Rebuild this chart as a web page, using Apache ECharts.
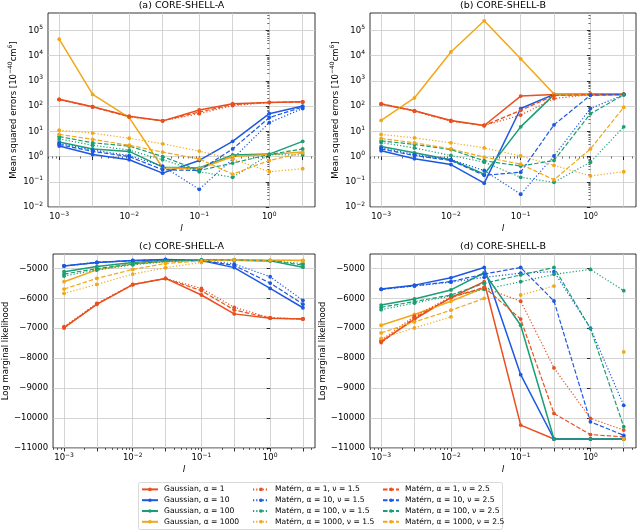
<!DOCTYPE html>
<html><head><meta charset="utf-8">
<script src="https://cdn.jsdelivr.net/npm/echarts@6/dist/echarts.min.js"></script>
<style>html,body{margin:0;padding:0;background:#fff}#c{width:640px;height:532px}</style>
</head><body><div id="c"></div>
<script>
// ---------------- data ----------------
const lengthScales = [0.001, 0.003, 0.01, 0.03, 0.1, 0.3, 1, 3];
const xLabelExps = [-3, -2, -1, 0];
const mseLabelExps = [-2, -1, 0, 1, 2, 3, 4, 5];
const lmlTicks = [-11000, -10000, -9000, -8000, -7000, -6000, -5000];
const panelTitles = ['(a) CORE-SHELL-A', '(b) CORE-SHELL-B', '(c) CORE-SHELL-A', '(d) CORE-SHELL-B'];
const seriesNames = [
  'Gaussian, α = 1', 'Gaussian, α = 10', 'Gaussian, α = 100', 'Gaussian, α = 1000',
  'Matérn, α = 1, ν = 1.5', 'Matérn, α = 10, ν = 1.5', 'Matérn, α = 100, ν = 1.5', 'Matérn, α = 1000, ν = 1.5',
  'Matérn, α = 1, ν = 2.5', 'Matérn, α = 10, ν = 2.5', 'Matérn, α = 100, ν = 2.5', 'Matérn, α = 1000, ν = 2.5'
];

// (a) Mean squared errors, CORE-SHELL-A
const mseA_G1      = [185, 95, 40, 26, 70, 125, 140, 148];
const mseA_G10     = [2.6, 1.2, 0.75, 0.22, 0.7, 4.0, 50, 100];
const mseA_G100    = [3.8, 2.0, 1.6, 0.38, 0.35, 1.15, 1.25, 4.0];
const mseA_G1000   = [45000, 290, 35, 0.36, 0.33, 1.0, 1.2, 1.5];
const mseA_M1_15   = [185, 95, 38, 26, 50, 105, 138, 145];
const mseA_M10_15  = [3.3, 1.8, 1.1, 0.42, 0.05, 0.8, 22, 80];
const mseA_M100_15 = [5.0, 2.8, 1.8, 0.75, 0.25, 0.15, 1.2, 1.15];
const mseA_M1000_15= [11, 8.5, 5.3, 3.2, 1.65, 0.8, 0.25, 0.33];
const mseA_M1_25   = [180, 92, 38, 26, 58, 115, 140, 146];
const mseA_M10_25  = [3.0, 1.6, 1.0, 0.3, 0.28, 2.0, 35, 92];
const mseA_M100_25 = [6.2, 3.5, 2.6, 1.0, 0.28, 0.55, 1.2, 2.0];
const mseA_M1000_25= [7.6, 4.8, 2.8, 1.5, 0.8, 0.2, 0.7, 1.4];

// (b) Mean squared errors, CORE-SHELL-B
const mseB_G1      = [120, 65, 27, 17, 250, 290, 295, 295];
const mseB_G10     = [1.7, 0.82, 0.48, 0.088, 80, 290, 290, 290];
const mseB_G100    = [2.5, 1.4, 0.75, 0.2, 15, 285, 290, 290];
const mseB_G1000   = [27, 210, 14000, 240000, 7500, 300, 295, 295];
const mseB_M1_15   = [118, 63, 25, 17, 44, 200, 285, 290];
const mseB_M10_15  = [2.2, 1.2, 0.75, 0.28, 0.032, 1.05, 80, 285];
const mseB_M100_15 = [3.6, 2.2, 1.1, 0.6, 0.15, 0.095, 0.6, 15];
const mseB_M1000_15= [7.5, 5.5, 3.5, 2.2, 1.05, 0.45, 0.17, 0.25];
const mseB_M1_25   = [125, 65, 26, 17, 68, 260, 290, 290];
const mseB_M10_25  = [2.0, 1.1, 0.7, 0.18, 0.24, 18, 270, 290];
const mseB_M100_25 = [4.2, 3.0, 1.9, 0.68, 0.42, 0.7, 50, 280];
const mseB_M1000_25= [5.2, 3.5, 2.0, 0.95, 0.5, 0.12, 2.0, 90];

// (c) Log marginal likelihood, CORE-SHELL-A
const lmlA_G1      = [-6980, -6200, -5540, -5335, -5890, -6520, -6670, -6690];
const lmlA_G10     = [-4920, -4800, -4735, -4700, -4735, -4975, -5670, -6315];
const lmlA_G100    = [-5110, -4940, -4800, -4740, -4720, -4730, -4750, -4960];
const lmlA_G1000   = [-5445, -5050, -4850, -4760, -4730, -4720, -4730, -4730];
const lmlA_M1_15   = [-6950, -6170, -5535, -5335, -5670, -6300, -6650, -6690];
const lmlA_M10_15  = [-4915, -4805, -4745, -4715, -4740, -4850, -5280, -6070];
const lmlA_M100_15 = [-5255, -5055, -4880, -4780, -4730, -4720, -4740, -4840];
const lmlA_M1000_15= [-5835, -5535, -5190, -4980, -4800, -4730, -4740, -4750];
const lmlA_M1_25   = [-6990, -6190, -5545, -5340, -5745, -6390, -6660, -6690];
const lmlA_M10_25  = [-4920, -4800, -4740, -4710, -4740, -4900, -5490, -6195];
const lmlA_M100_25 = [-5190, -5010, -4850, -4760, -4720, -4720, -4740, -4890];
const lmlA_M1000_25= [-5690, -5335, -5035, -4835, -4750, -4720, -4730, -4740];

// (d) Log marginal likelihood, CORE-SHELL-B
const lmlB_G1      = [-7450, -6700, -5980, -5445, -10235, -10700, -10700, -10700];
const lmlB_G10     = [-5690, -5560, -5315, -4970, -8550, -10700, -10700, -10700];
const lmlB_G100    = [-6225, -6020, -5720, -5145, -6900, -10700, -10700, -10700];
const lmlB_G1000   = [-6900, -6540, -6100, -5650, null, null, null, null];
const lmlB_M1_15   = [-7400, -6600, -5950, -5650, -6095, -8325, -10010, -10400];
const lmlB_M10_15  = [-5700, -5590, -5460, -5300, -5160, -5110, -7000, -9575];
const lmlB_M100_15 = [-6380, -6160, -5920, -5700, -5445, -5200, -5035, -5745];
const lmlB_M1000_15= [-7340, -6990, -6620, null, -5890, -5590, null, -7790];
const lmlB_M1_25   = [-7480, -6650, -5980, -5630, -6695, -9845, -10550, -10630];
const lmlB_M10_25  = [-5700, -5580, -5440, -5190, -4970, -6090, -10125, -10575];
const lmlB_M100_25 = [-6300, -6110, -5890, -5500, -5220, -4970, -7010, -10290];
const lmlB_M1000_25= [-7155, -6790, -6395, -6005, null, null, null, -10700];

const panelData = [
  [mseA_G1, mseA_G10, mseA_G100, mseA_G1000, mseA_M1_15, mseA_M10_15, mseA_M100_15, mseA_M1000_15, mseA_M1_25, mseA_M10_25, mseA_M100_25, mseA_M1000_25],
  [mseB_G1, mseB_G10, mseB_G100, mseB_G1000, mseB_M1_15, mseB_M10_15, mseB_M100_15, mseB_M1000_15, mseB_M1_25, mseB_M10_25, mseB_M100_25, mseB_M1000_25],
  [lmlA_G1, lmlA_G10, lmlA_G100, lmlA_G1000, lmlA_M1_15, lmlA_M10_15, lmlA_M100_15, lmlA_M1000_15, lmlA_M1_25, lmlA_M10_25, lmlA_M100_25, lmlA_M1000_25],
  [lmlB_G1, lmlB_G10, lmlB_G100, lmlB_G1000, lmlB_M1_15, lmlB_M10_15, lmlB_M100_15, lmlB_M1000_15, lmlB_M1_25, lmlB_M10_25, lmlB_M100_25, lmlB_M1000_25]
];

// ---------------- style / layout ----------------
const FONT = 'DejaVu Sans';
const palette = ['#ea4f1d', '#1c58e2', '#1a9e74', '#f2a716'];
const lineKinds = ['solid', 'dotted', 'dashed'];
const grids = [
  {left: 48, top: 13, width: 267, height: 194},
  {left: 370, top: 13, width: 266, height: 194},
  {left: 48, top: 254, width: 267, height: 194},
  {left: 370, top: 254, width: 266, height: 194}
];
const X_MIN = -3.16, X_MAX = 0.653;
const MSE_MIN = -2, MSE_MAX = 5.69;
const LML_MIN = -11000, LML_MAX = -4520;

const MINUS = '\u2212';
const fmtExp = e => (e < 0 ? MINUS + Math.abs(e) : String(e));
const supRich = {s: {fontSize: 6, fontFamily: FONT, color: '#000', lineHeight: 6, verticalAlign: 'top'}};
const powLabel = v => '10{s|' + fmtExp(Math.round(v)) + '}';

function minorLogTicks(lo, hi, skipK) {
  const out = [];
  for (let n = Math.floor(lo) - 1; n <= Math.ceil(hi); n++) {
    for (let k = 2; k <= 9; k++) {
      if (skipK && k === 3) continue;
      const v = n + Math.log10(k);
      if (v > lo && v < hi) out.push(v);
    }
  }
  return out;
}
const lsLog = lengthScales.map(Math.log10);

const xAxes = [], yAxes = [], series = [];
grids.forEach((g, gi) => {
  const isMse = gi < 2;
  xAxes.push({
    type: 'value', gridIndex: gi, min: X_MIN, max: X_MAX, position: 'bottom',
    name: 'l', nameLocation: 'middle', nameGap: 13,
    nameTextStyle: {fontFamily: FONT, fontSize: 9, fontStyle: 'italic', color: '#000'},
    axisLine: {show: false},
    axisTick: {show: true, customValues: lsLog, length: 3.5, lineStyle: {color: '#000', width: 0.8}},
    axisLabel: {customValues: xLabelExps, formatter: powLabel, fontFamily: FONT, fontSize: 8.5, color: '#000', margin: 4, lineHeight: 12, rich: supRich},
    splitLine: {show: true, lineStyle: {color: '#c9c9c9', width: 0.8}}
  });
  xAxes.push({
    type: 'value', gridIndex: gi, min: X_MIN, max: X_MAX, position: 'bottom',
    axisLine: {show: false}, splitLine: {show: false}, axisLabel: {show: false},
    axisTick: {show: true, customValues: minorLogTicks(X_MIN, X_MAX, true), length: 2, lineStyle: {color: '#000', width: 0.6}}
  });
  if (isMse) {
    yAxes.push({
      type: 'value', gridIndex: gi, min: MSE_MIN, max: MSE_MAX, position: 'left',
      name: 'Mean squared errors [10{s|' + MINUS + '40}cm{s|6}]', nameLocation: 'middle', nameGap: 27,
      nameTextStyle: {fontFamily: FONT, fontSize: 8.5, color: '#000', lineHeight: 12, rich: supRich},
      axisLine: {show: false},
      axisTick: {show: true, customValues: mseLabelExps, length: 3.5, lineStyle: {color: '#000', width: 0.8}},
      axisLabel: {customValues: mseLabelExps, formatter: powLabel, fontFamily: FONT, fontSize: 8.5, color: '#000', margin: 5, lineHeight: 12, rich: supRich},
      splitLine: {show: true, lineStyle: {color: '#c9c9c9', width: 0.8}}
    });
    yAxes.push({
      type: 'value', gridIndex: gi, min: MSE_MIN, max: MSE_MAX, position: 'left',
      axisLine: {show: false}, splitLine: {show: false}, axisLabel: {show: false},
      axisTick: {show: true, customValues: minorLogTicks(MSE_MIN, MSE_MAX, false), length: 2, lineStyle: {color: '#000', width: 0.6}}
    });
  } else {
    yAxes.push({
      type: 'value', gridIndex: gi, min: LML_MIN, max: LML_MAX, position: 'left',
      name: 'Log marginal likelihood', nameLocation: 'middle', nameGap: 37,
      nameTextStyle: {fontFamily: FONT, fontSize: 8.5, color: '#000'},
      axisLine: {show: false},
      axisTick: {show: true, customValues: lmlTicks, length: 3.5, lineStyle: {color: '#000', width: 0.8}},
      axisLabel: {customValues: lmlTicks, formatter: v => (v < 0 ? MINUS + Math.abs(v) : String(v)), fontFamily: FONT, fontSize: 8.5, color: '#000', margin: 5},
      splitLine: {show: true, lineStyle: {color: '#c9c9c9', width: 0.8}}
    });
    yAxes.push({
      type: 'value', gridIndex: gi, min: LML_MIN, max: LML_MAX, position: 'left', show: false
    });
  }
  panelData[gi].forEach((vals, si) => {
    const color = palette[si % 4];
    const kind = lineKinds[Math.floor(si / 4)];
    series.push({
      type: 'line', name: seriesNames[si], xAxisIndex: 2 * gi, yAxisIndex: 2 * gi,
      data: vals.map((v, i) => [lsLog[i], v == null ? '-' : (isMse ? Math.log10(v) : v)]),
      symbol: 'circle', symbolSize: 3.8, showSymbol: true, connectNulls: false,
      lineStyle: {color, width: kind === 'solid' ? 1.5 : 1.2,
        type: kind === 'solid' ? 'solid' : (kind === 'dotted' ? [1.2, 2] : [4.5, 2])},
      itemStyle: {color},
      emphasis: {disabled: true}, animation: false, silent: true
    });
  });
});

const legendCols = [[0, 1, 2, 3], [4, 5, 6, 7], [8, 9, 10, 11]];
const legendLeft = [141, 252, 382];
const legends = legendCols.map((idx, c) => ({
  orient: 'vertical', left: legendLeft[c], top: 484, itemGap: 0, padding: 0,
  itemWidth: 16, itemHeight: 4.5, selectedMode: false,
  data: idx.map(i => seriesNames[i]),
  textStyle: {fontFamily: FONT, fontSize: 7.6, color: '#000', lineHeight: 10.8, padding: [0, 0, 0, 1]}
}));

const titleGraphics = panelTitles.map((t, i) => ({
  type: 'text', x: grids[i].left + grids[i].width / 2, y: grids[i].top - 7.5,
  style: {text: t, fontFamily: FONT, fontSize: 9.5, fill: '#000', align: 'center', verticalAlign: 'middle'}
}));

const option = {
  animation: false,
  backgroundColor: '#fff',
  textStyle: {fontFamily: FONT},
  grid: grids.map(g => Object.assign({show: true, borderColor: '#000', borderWidth: 0.8, backgroundColor: 'transparent', containLabel: false}, g)),
  xAxis: xAxes,
  yAxis: yAxes,
  legend: legends,
  graphic: [
    {type: 'rect', shape: {x: 138.5, y: 482.5, width: 364, height: 47, r: 2}, style: {fill: '#fff', stroke: '#cfcfcf', lineWidth: 0.8}, z: -1}
  ].concat(titleGraphics),
  series
};
const chart = echarts.init(document.getElementById('c'), null, {renderer: 'canvas'});
chart.setOption(option);
</script></body></html>
